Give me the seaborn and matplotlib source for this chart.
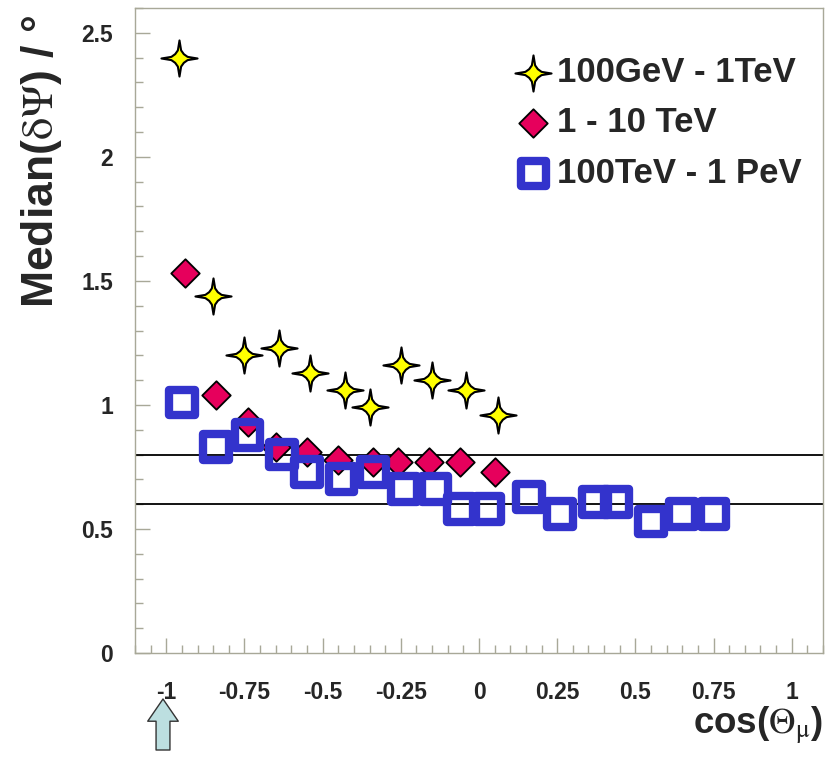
import numpy as np
import matplotlib
matplotlib.use("Agg")
import matplotlib.pyplot as plt
from matplotlib.path import Path
from matplotlib.ticker import MultipleLocator, FixedLocator, FixedFormatter
import seaborn as sns

# Median angular resolution vs. cos(zenith) in three energy bands
low_cos = [-0.96, -0.85, -0.75, -0.64, -0.54, -0.43, -0.35, -0.25, -0.15, -0.04, 0.06]
low_med = [2.40, 1.44, 1.20, 1.23, 1.13, 1.06, 0.99, 1.16, 1.10, 1.06, 0.96]

mid_cos = [-0.94, -0.84, -0.74, -0.65, -0.55, -0.45, -0.34, -0.26, -0.16, -0.06, 0.05]
mid_med = [1.53, 1.04, 0.93, 0.83, 0.81, 0.78, 0.77, 0.77, 0.77, 0.77, 0.73]

high_cos = [-0.95, -0.84, -0.74, -0.63, -0.55, -0.44, -0.34, -0.24, -0.14, -0.06,
            0.03, 0.16, 0.26, 0.37, 0.44, 0.55, 0.65, 0.75]
high_med = [1.01, 0.83, 0.88, 0.80, 0.73, 0.70, 0.73, 0.66, 0.66, 0.58,
            0.58, 0.63, 0.56, 0.61, 0.61, 0.53, 0.56, 0.56]

series_labels = ["100GeV - 1TeV", "1 - 10 TeV", "100TeV - 1 PeV"]
ref_levels = [0.8, 0.6]

x_ticks = [-1, -0.75, -0.5, -0.25, 0, 0.25, 0.5, 0.75, 1]
x_ticklabels = ["-1", "-0.75", "-0.5", "-0.25", "0", "0.25", "0.5", "0.75", "1"]
y_ticks = [0, 0.5, 1, 1.5, 2, 2.5]
y_ticklabels = ["0", "0.5", "1", "1.5", "2", "2.5"]

sns.set_theme(style="white")
plt.rcParams["font.family"] = ["Liberation Sans", "DejaVu Sans"]
plt.rcParams["mathtext.fontset"] = "stix"
plt.rcParams["axes.unicode_minus"] = False

W, H = 831, 757
fig = plt.figure(figsize=(W / 100, H / 100), dpi=100)
ax = fig.add_axes([135 / W, 1 - 653 / H, (823 - 135) / W, (653 - 8) / H])

# four-pointed star marker
q = [(0, 1), (0.09, 0.45), (0.24, 0.24), (0.45, 0.09)]
star_verts = []
for ang in range(4):
    c, s = np.cos(-ang * np.pi / 2), np.sin(-ang * np.pi / 2)
    for (px, py) in q:
        star_verts.append((px * c - py * s, px * s + py * c))
star_verts.append(star_verts[0])
star = Path(star_verts, [Path.MOVETO] + [Path.LINETO] * (len(star_verts) - 2) + [Path.CLOSEPOLY])

frame_col = "#a8a898"
for y in ref_levels:
    ax.axhline(y, color="black", lw=1.3, zorder=1)

sns.scatterplot(x=low_cos, y=low_med, marker=star, s=26 ** 2, color="#ffff00",
                edgecolor="black", linewidth=1.5, label=series_labels[0], ax=ax, zorder=3)
sns.scatterplot(x=mid_cos, y=mid_med, marker="D", s=14.5 ** 2, color="#e6005c",
                edgecolor="black", linewidth=1.3, label=series_labels[1], ax=ax, zorder=3)
sns.scatterplot(x=high_cos, y=high_med, marker="s", s=18.5 ** 2, color="none",
                edgecolor="#3333cc", linewidth=6, label=series_labels[2], ax=ax, zorder=4)

ax.set_xlim(-1.1, 1.1)
ax.set_ylim(0, 2.6)
ax.xaxis.set_major_locator(FixedLocator(x_ticks))
ax.xaxis.set_major_formatter(FixedFormatter(x_ticklabels))
ax.xaxis.set_minor_locator(MultipleLocator(0.05))
ax.yaxis.set_major_locator(FixedLocator(y_ticks))
ax.yaxis.set_major_formatter(FixedFormatter(y_ticklabels))
ax.yaxis.set_minor_locator(MultipleLocator(0.1))
ax.tick_params(which="both", direction="in", color=frame_col, width=1,
               bottom=True, left=True, top=False, right=False)
ax.tick_params(which="major", length=11, labelsize=16.5)
ax.tick_params(which="minor", length=6)
ax.tick_params(axis="x", which="major", pad=20)
ax.tick_params(axis="y", which="major", pad=16)
for lab in ax.get_xticklabels() + ax.get_yticklabels():
    lab.set_fontweight("bold")
for sp in ax.spines.values():
    sp.set_color(frame_col)
    sp.set_linewidth(1)
ax.set_xlabel("")
ax.set_ylabel("")

leg = ax.legend(loc="upper left", bbox_to_anchor=(517 / W, 1 - 56 / H),
                bbox_transform=fig.transFigure, frameon=False,
                prop={"size": 25, "weight": "bold"}, handlelength=0.95,
                handletextpad=0.2, labelspacing=0.5, borderpad=0, borderaxespad=0)

fig.text(42 / W, 1 - 161 / H, r"Median($\mathrm{δΨ}$) / °", rotation=90,
         ha="center", va="center", fontsize=32, fontweight="bold")
fig.text(823 / W, 1 - 726 / H, r"cos($\mathrm{Θ}_{\mathrm{μ}}$)", ha="right", va="center",
         fontsize=26.5, fontweight="bold")

ax.annotate("", xy=(163, H - 699), xycoords="figure pixels",
            xytext=(163, H - 750), textcoords="figure pixels",
            arrowprops=dict(arrowstyle="simple,head_length=1.6,head_width=2.2,tail_width=1.0",
                            fc="#bcdfe0", ec="#333333", lw=1, mutation_scale=10,
                            shrinkA=0, shrinkB=0))

fig.savefig("out.png", dpi=100)
